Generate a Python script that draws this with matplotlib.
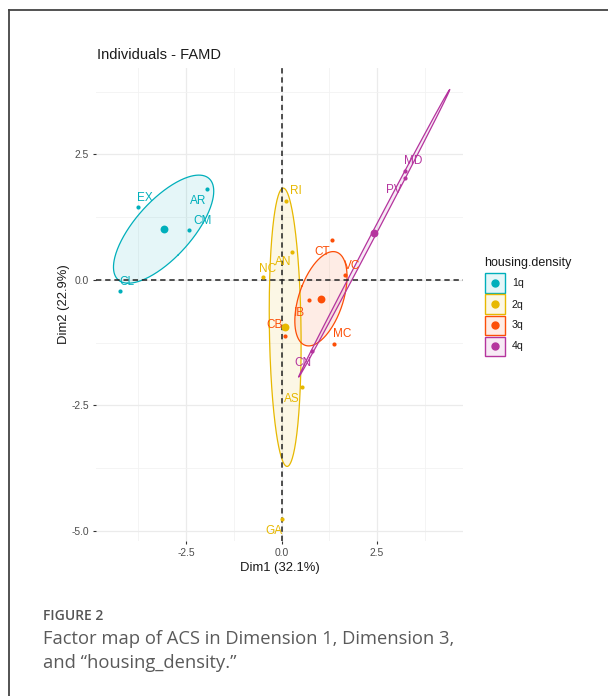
import numpy as np
import matplotlib
matplotlib.use('Agg')
import matplotlib.pyplot as plt
from matplotlib.patches import Rectangle
from matplotlib.lines import Line2D

# ---------------- data ----------------
groups = ['1q', '2q', '3q', '4q']
colors = ['#00AFBB', '#E7B800', '#FC4E07', '#B5349E']

names_1q = ['AR', 'EX', 'CM', 'CL']
dim1_1q = [-1.955, -3.75, -2.42, -4.22]
dim2_1q = [1.81, 1.45, 1.00, -0.21]

names_2q = ['RI', 'AN', 'NC', 'AS', 'GA']
dim1_2q = [0.13, 0.28, -0.49, 0.54, 0.02]
dim2_2q = [1.58, 0.55, 0.06, -2.13, -4.77]

names_3q = ['CT', 'VC', 'IB', 'MC', 'CB']
dim1_3q = [1.31, 1.65, 0.73, 1.38, 0.09]
dim2_3q = [0.80, 0.10, -0.39, -1.27, -1.11]

names_4q = ['MD', 'PV', 'CN']
dim1_4q = [3.24, 3.23, 0.81]
dim2_4q = [2.17, 2.03, -1.41]

x_ticks = [-2.5, 0.0, 2.5]
y_ticks = [-5.0, -2.5, 0.0, 2.5]
x_label = 'Dim1 (32.1%)'
y_label = 'Dim2 (22.9%)'
title = 'Individuals - FAMD'
legend_title = 'housing.density'

all_names = [names_1q, names_2q, names_3q, names_4q]
all_x = [dim1_1q, dim1_2q, dim1_3q, dim1_4q]
all_y = [dim2_1q, dim2_2q, dim2_3q, dim2_4q]

# label placement (pixel offsets, ggrepel-like)
label_offset_px = {
    'EX': (7, -9), 'AR': (-9, 11.5), 'CM': (14, -9), 'CL': (6.5, -9),
    'RI': (9, -10), 'AN': (-8.5, 10), 'NC': (5, -7.5), 'AS': (-10, 12), 'GA': (-8.5, 11.5),
    'CT': (-9, 12.5), 'VC': (8, -8.5), 'IB': (-9.5, 13), 'MC': (7.5, -10), 'CB': (-10.5, -10.5),
    'MD': (8, -10.5), 'PV': (-11.5, 11.5), 'CN': (-9.5, 12),
}

W, H = 608, 696
fig = plt.figure(figsize=(W / 100, H / 100), dpi=100)
fig.patch.set_facecolor('white')


def fx(px):
    return px / W


def fy(py):
    return 1 - py / H


ax = fig.add_axes([fx(96), fy(541), (463 - 96) / W, (541 - 68) / H])
ax.set_facecolor('white')
for s in ax.spines.values():
    s.set_visible(False)

ax.set_xlim(-4.856, 4.751)
ax.set_ylim(-5.2, 4.223)

ax.set_xticks(x_ticks)
ax.set_xticklabels([f'{t:.1f}' for t in x_ticks])
ax.set_yticks(y_ticks)
ax.set_yticklabels([f'{t:.1f}' for t in y_ticks])
ax.set_xticks([-3.75, -1.25, 1.25, 3.75], minor=True)
ax.set_yticks([-3.75, -1.25, 1.25, 3.75], minor=True)
ax.grid(which='major', color='#EBEBEB', lw=0.9, zorder=0)
ax.grid(which='minor', color='#F2F2F2', lw=0.6, zorder=0)
ax.set_axisbelow(True)
ax.tick_params(which='major', length=2.5, width=0.8, color='#333333', pad=2.5,
               labelsize=7.4, labelcolor='#4D4D4D')
ax.tick_params(which='minor', length=0)
for lab in ax.get_xticklabels() + ax.get_yticklabels():
    lab.set_fontfamily('Liberation Sans')

ax.set_xlabel(x_label, fontsize=9.4, family='Liberation Sans', color='#1A1A1A', labelpad=3)
ax.set_ylabel(y_label, fontsize=9.4, family='Liberation Sans', color='#1A1A1A', labelpad=1)

# reference lines
ax.axhline(0, color='#222222', lw=1.1, ls=(0, (3.5, 2.5)), zorder=2)
ax.axvline(0, color='#222222', lw=1.1, ls=(0, (3.5, 2.5)), zorder=2)

# confidence ellipses around group means
r = np.sqrt(-2 * np.log(0.05))
t = np.linspace(0, 2 * np.pi, 300)
for xs, ys, c in zip(all_x, all_y, colors):
    xs = np.array(xs)
    ys = np.array(ys)
    n = len(xs)
    cov = np.cov(np.vstack([xs, ys])) / n
    vals, vecs = np.linalg.eigh(cov)
    vals = np.clip(vals, 0, None)
    circ = np.vstack([np.cos(t), np.sin(t)])
    pts = vecs @ (np.sqrt(vals)[:, None] * circ) * r
    ex = pts[0] + xs.mean()
    ey = pts[1] + ys.mean()
    ax.fill(ex, ey, color=c, alpha=0.1, lw=0, zorder=1)
    ax.plot(ex, ey, color=c, lw=0.9, zorder=1.5)

# points, centroids and labels
for names, xs, ys, c in zip(all_names, all_x, all_y, colors):
    ax.scatter(xs, ys, s=9, color=c, zorder=3, linewidths=0)
    ax.scatter([np.mean(xs)], [np.mean(ys)], s=32, color=c, zorder=3, linewidths=0)
    for nm, x, y in zip(names, xs, ys):
        dx, dy = label_offset_px[nm]
        ax.annotate(nm, (x, y), xytext=(dx * 0.72, -dy * 0.72), textcoords='offset points',
                    ha='center', va='center', color=c, fontsize=8.5,
                    family='Liberation Sans', zorder=4)

# title
fig.text(fx(97), fy(55), title, ha='left', va='center', fontsize=10.5,
         family='Liberation Sans', color='#1A1A1A')

# legend (drawn manually)
fig.text(fx(484), fy(262.5), legend_title, ha='left', va='center', fontsize=9,
         family='Liberation Sans', color='#1A1A1A')
for i, (g, c) in enumerate(zip(groups, colors)):
    top = 273.5 + i * 21
    fig.add_artist(Rectangle((fx(485), fy(top + 19.5)), 19.5 / W, 19.5 / H,
                             transform=fig.transFigure, facecolor=c, alpha=0.1, lw=0))
    fig.add_artist(Rectangle((fx(485), fy(top + 19.5)), 19.5 / W, 19.5 / H,
                             transform=fig.transFigure, facecolor='none', edgecolor=c, lw=1.0))
    fig.add_artist(Line2D([fx(494.7)], [fy(top + 9.5)], transform=fig.transFigure,
                          marker='o', markersize=5, color=c, lw=0))
    fig.text(fx(512), fy(top + 10), g, ha='left', va='center', fontsize=7.6,
             family='Liberation Sans', color='#1A1A1A')

# frame
fig.add_artist(Line2D([fx(9), 1], [fy(10), fy(10)], transform=fig.transFigure,
                      color='#444444', lw=1.3))
fig.add_artist(Line2D([fx(9), fx(9)], [fy(10), 0], transform=fig.transFigure,
                      color='#444444', lw=1.3))

# caption
fig.text(fx(43), fy(616.5), 'FIGURE 2', ha='left', va='center', fontsize=10,
         family='Open Sans', weight='semibold', color='#555555')
fig.text(fx(43), fy(639.5), 'Factor map of ACS in Dimension 1, Dimension 3,', ha='left',
         va='center', fontsize=13.2, family='Open Sans', color='#5A5A5A')
fig.text(fx(43), fy(663.5), 'and \u201chousing_density.\u201d', ha='left',
         va='center', fontsize=13.2, family='Open Sans', color='#5A5A5A')

fig.savefig('out.png', dpi=100, facecolor='white')
